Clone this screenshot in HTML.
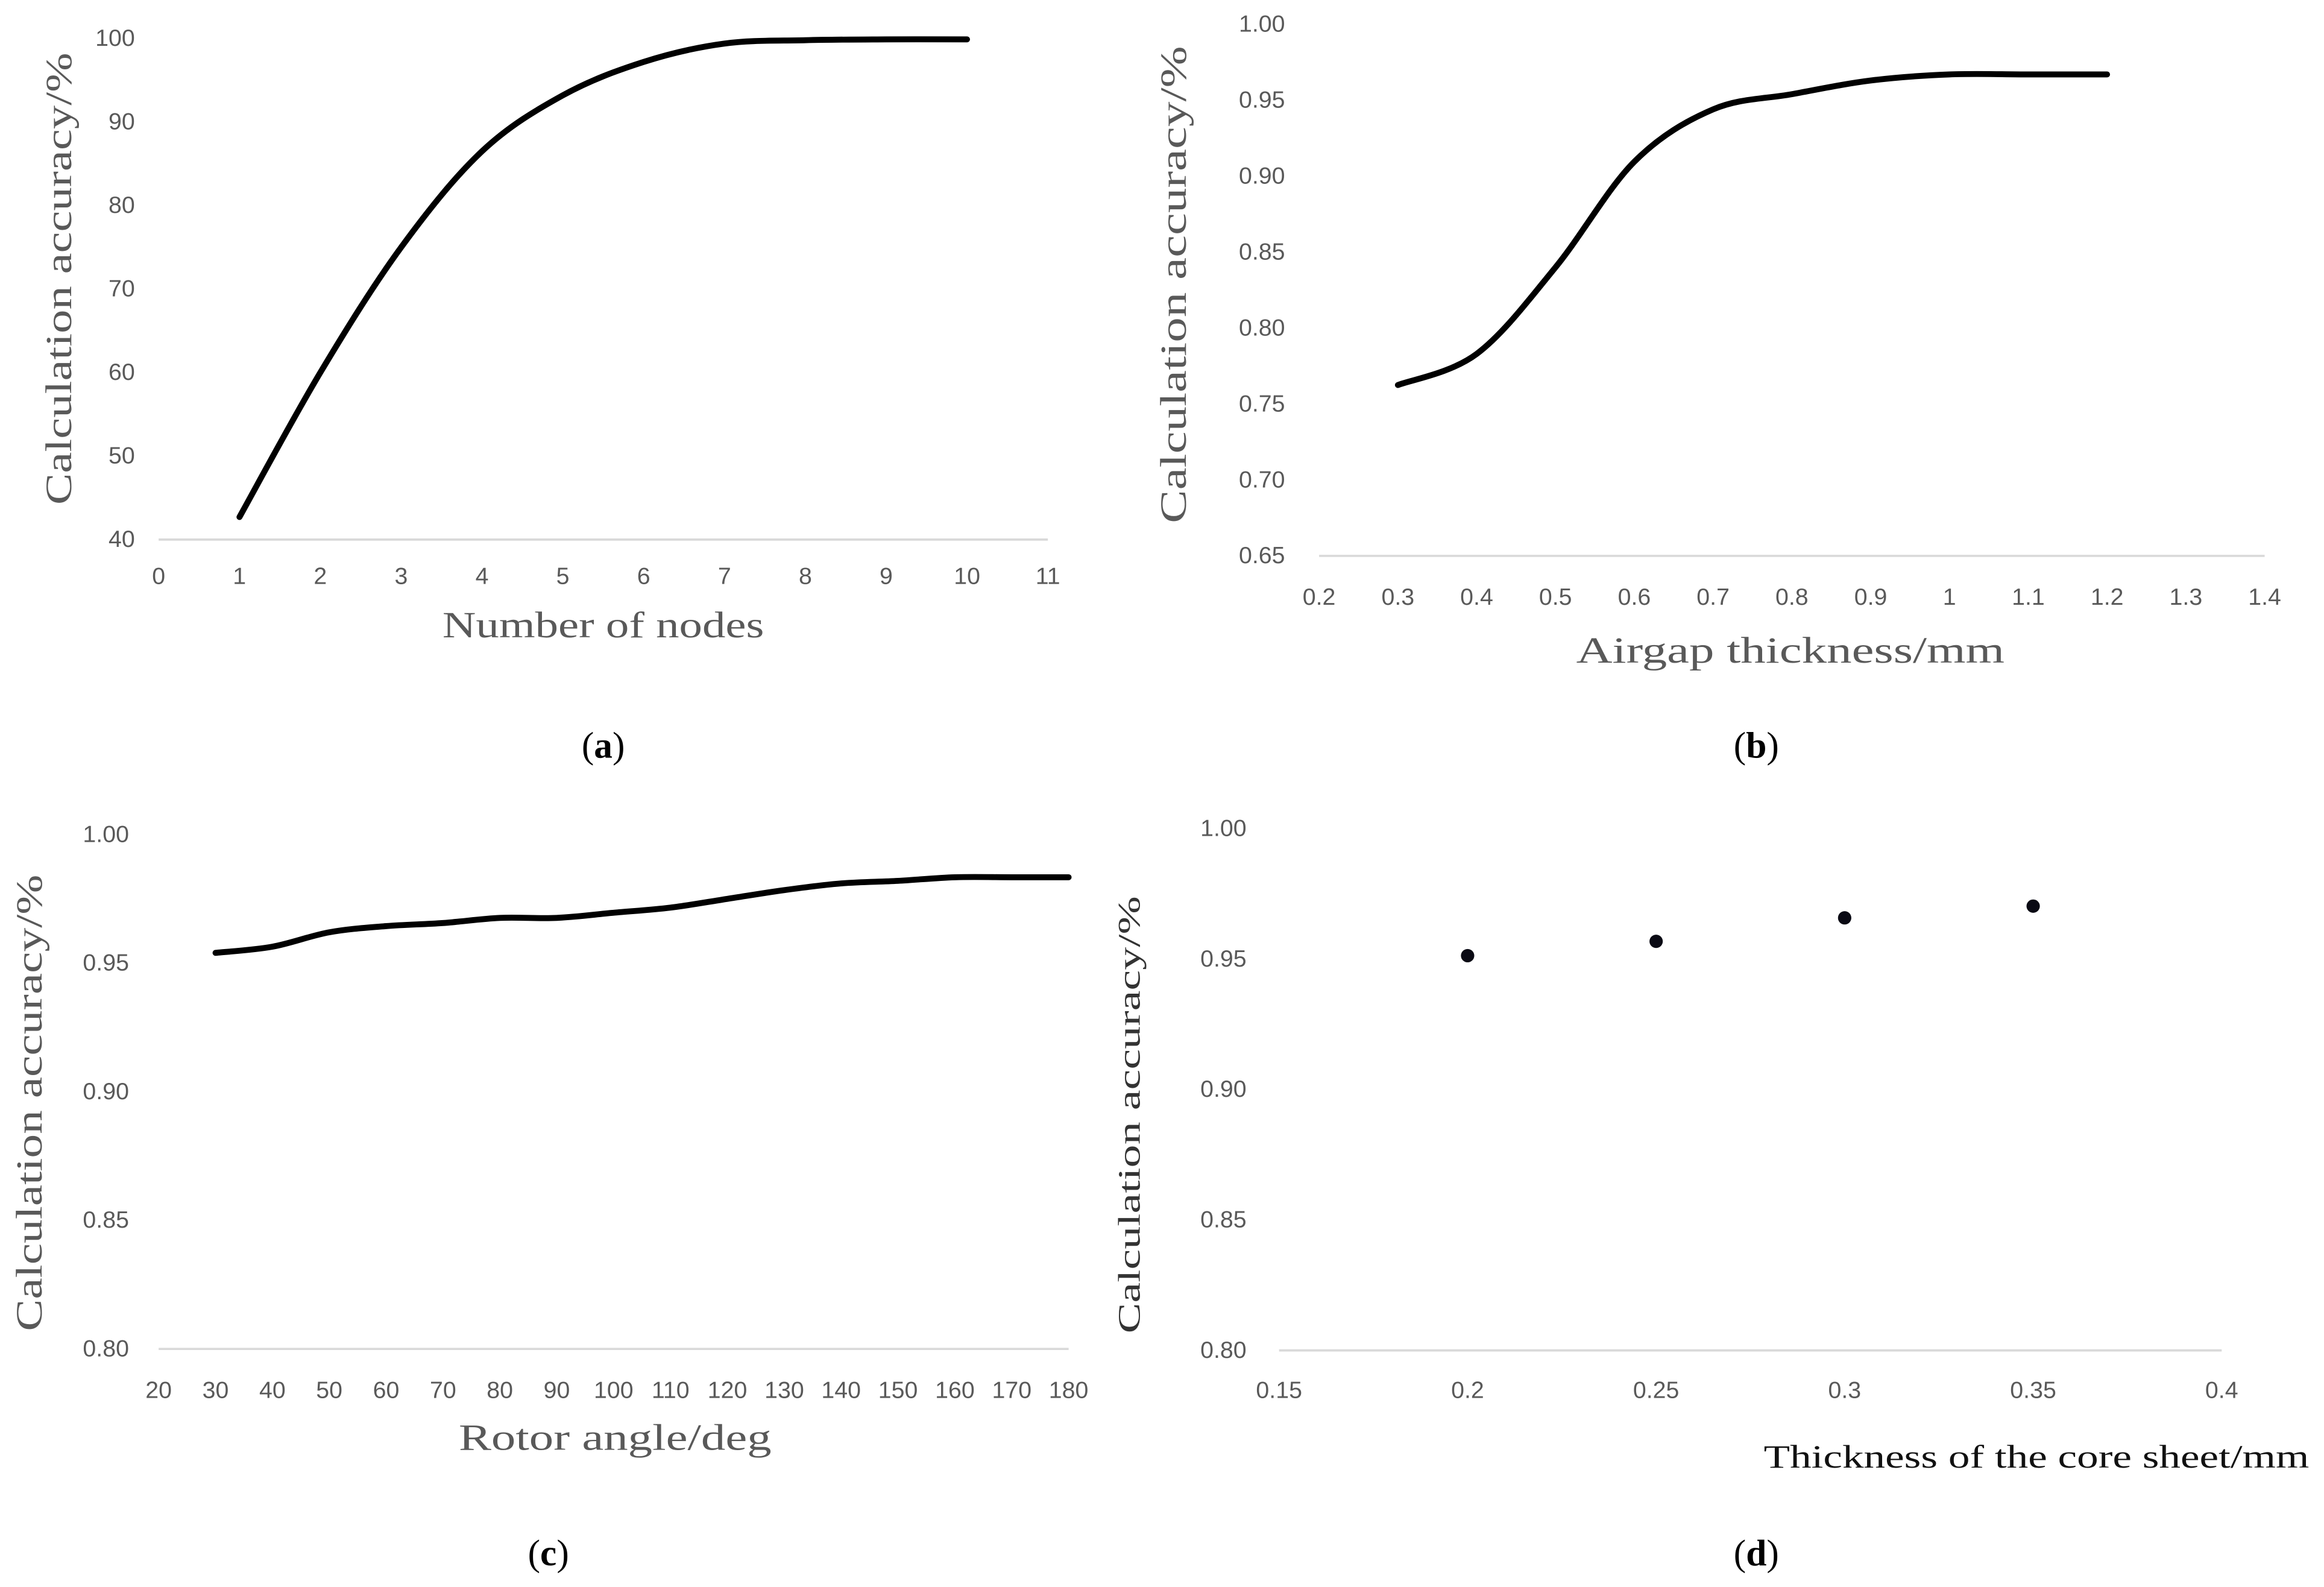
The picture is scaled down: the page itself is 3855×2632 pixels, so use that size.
<!DOCTYPE html>
<html><head><meta charset="utf-8"><style>
html,body{margin:0;padding:0;background:#fff;}
svg{display:block;}
.tk{font-family:"Liberation Sans Narrow","Liberation Sans",sans-serif;font-size:16px;fill:#595959;}
.at{font-family:"Liberation Serif",serif;font-size:25px;fill:#595959;}
.yt{font-family:"Liberation Serif",serif;font-size:25px;fill:#595959;}
.cap{font-family:"Liberation Serif",serif;font-size:25px;fill:#000;}
</style></head><body>
<svg id="fig" width="3855" height="2632" viewBox="0 0 1568 1070.6" xmlns="http://www.w3.org/2000/svg"></svg>
<script>
// Panel (a)
const aX = [1,2,3,4,5,6,7,8,9,10];
const aY = [42.7,60,75,86.5,93.2,97.2,99.4,99.8,99.9,99.9];
const aXTicks = [0,1,2,3,4,5,6,7,8,9,10,11];
const aYTicks = [40,50,60,70,80,90,100];
// Panel (b)
const bX = [0.3,0.4,0.5,0.6,0.7,0.8,0.9,1.0,1.1,1.2];
const bY = [0.7625,0.783,0.840,0.9095,0.944,0.954,0.963,0.967,0.967,0.967];
const bXTicks = [0.2,0.3,0.4,0.5,0.6,0.7,0.8,0.9,1,1.1,1.2,1.3,1.4];
const bYTicks = [0.65,0.70,0.75,0.80,0.85,0.90,0.95,1.00];
// Panel (c)
const cX = [30,40,50,60,70,80,90,100,110,120,130,140,150,160,170,180];
const cY = [0.954,0.9564,0.962,0.9644,0.9656,0.9676,0.9676,0.9696,0.9716,0.975,0.9784,0.981,0.982,0.9834,0.9834,0.9834];
const cXTicks = [20,30,40,50,60,70,80,90,100,110,120,130,140,150,160,170,180];
const cYTicks = [0.80,0.85,0.90,0.95,1.00];
// Panel (d)
const dX = [0.2,0.25,0.3,0.35];
const dY = [0.9513,0.9568,0.9658,0.9703];
const dXTicks = [0.15,0.2,0.25,0.3,0.35,0.4];
const dYTicks = [0.80,0.85,0.90,0.95,1.00];

const NS="http://www.w3.org/2000/svg";
const svg=document.getElementById('fig');
function mk(tag,attrs,parent,text){
  const e=document.createElementNS(NS,tag);
  for(const k in attrs)e.setAttribute(k,attrs[k]);
  if(text!==undefined)e.textContent=text;
  (parent||svg).appendChild(e);return e;
}
function lin(d0,d1,r0,r1){return v=>r0+(v-d0)*(r1-r0)/(d1-d0);}
function smooth(pts){
  let d='M'+pts[0][0]+','+pts[0][1];
  for(let i=0;i<pts.length-1;i++){
    const p0=pts[i-1]||pts[i],p1=pts[i],p2=pts[i+1],p3=pts[i+2]||p2;
    const c1=[p1[0]+(p2[0]-p0[0])/6,p1[1]+(p2[1]-p0[1])/6];
    const c2=[p2[0]-(p3[0]-p1[0])/6,p2[1]-(p3[1]-p1[1])/6];
    d+=' C'+c1[0]+','+c1[1]+' '+c2[0]+','+c2[1]+' '+p2[0]+','+p2[1];
  }
  return d;
}
function panel(o){
  const g=mk('g',{});
  
  
  const sx=lin(o.xd[0],o.xd[1],o.xr[0],o.xr[1]);
  const sy=lin(o.yd[0],o.yd[1],o.yr[0],o.yr[1]);
  const base=mk('line',{x1:o.xr[0],x2:o.xr[1],y1:o.yr[0],y2:o.yr[0],stroke:'#d9d9d9','stroke-width':1.5},g);
  
  
  o.xt.forEach(v=>{
    const t=mk('text',{x:sx(v),y:o.xly,'text-anchor':'middle',class:'tk'},g,String(v));
    
    
  });
  o.yt.forEach(v=>{
    const t=mk('text',{x:o.ylx,y:sy(v)+5,'text-anchor':'end',class:'tk'},g,o.yfmt(v));
    
    
  });
  const pts=o.x.map((v,i)=>[sx(v),sy(o.y[i])]);
  if(o.scatter){
    pts.forEach(p=>{
      const c=mk('circle',{cx:p[0],cy:p[1],r:4.5,fill:'#0a0a14'},g);
      
      
    });
  }else{
    const p=mk('path',{d:smooth(pts),fill:'none',stroke:'#000','stroke-width':4,'stroke-linecap':'round','stroke-linejoin':'round'},g);
    
    
  }
  const xt=mk('text',Object.assign({class:'at'},o.xtitle.attrs),g,o.xtitle.text);
  
  
  const yt=mk('text',{class:'yt',x:0,y:0,'text-anchor':'middle',transform:'translate('+o.ytitle.x+','+o.ytitle.y+') rotate(-90)',textLength:o.ytitle.len,lengthAdjust:'spacingAndGlyphs',style:o.ytitle.style||''},g,'Calculation accuracy/%');
  
  
  const cap=mk('text',{x:o.cap[0],y:o.cap[1],'text-anchor':'middle',class:'cap'},g);
  
  
  mk('tspan',{},cap,'(');
  mk('tspan',{'font-weight':'bold'},cap,o.letter);
  mk('tspan',{},cap,')');
}
const f2=v=>v.toFixed(2);
panel({name:'panel-a',x:aX,y:aY,xt:aXTicks,yt:aYTicks,xd:[0,11],xr:[107,707],yd:[40,100],yr:[364,26],
  xly:394,ylx:91,yfmt:v=>String(v),
  xtitle:{text:'Number of nodes',attrs:{x:407,y:430,'text-anchor':'middle',textLength:217,lengthAdjust:'spacingAndGlyphs'}},
  ytitle:{x:48,y:188,len:305},cap:[407,511],letter:'a'});
panel({name:'panel-b',x:bX,y:bY,xt:bXTicks,yt:bYTicks,xd:[0.2,1.4],xr:[890,1528],yd:[0.65,1.0],yr:[375,16.4],
  xly:408,ylx:867,yfmt:f2,
  xtitle:{text:'Airgap thickness/mm',attrs:{x:1208,y:447,'text-anchor':'middle',textLength:289,lengthAdjust:'spacingAndGlyphs'}},
  ytitle:{x:800,y:192,len:322},cap:[1185,511],letter:'b'});
panel({name:'panel-c',x:cX,y:cY,xt:cXTicks,yt:cYTicks,xd:[20,180],xr:[107,721],yd:[0.8,1.0],yr:[910,563],
  xly:943,ylx:87,yfmt:f2,
  xtitle:{text:'Rotor angle/deg',attrs:{x:415,y:978,'text-anchor':'middle',textLength:211,lengthAdjust:'spacingAndGlyphs'}},
  ytitle:{x:28,y:744,len:308},cap:[370,1056],letter:'c'});
panel({name:'panel-d',scatter:true,x:dX,y:dY,xt:dXTicks,yt:dYTicks,xd:[0.15,0.4],xr:[863,1499],yd:[0.8,1.0],yr:[911,559],
  xly:943,ylx:841,yfmt:f2,
  xtitle:{text:'Thickness of the core sheet/mm',attrs:{x:1558,y:990,'text-anchor':'end',textLength:368,lengthAdjust:'spacingAndGlyphs',style:'fill:#111;font-size:22px'}},
  ytitle:{x:769,y:752,len:295,style:'fill:#333;font-size:21px'},cap:[1185,1056],letter:'d'});
</script>
</body></html>
